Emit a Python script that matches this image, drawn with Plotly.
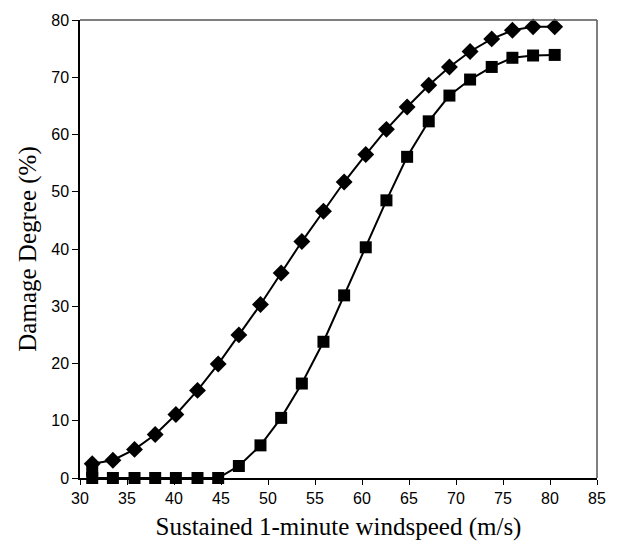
import plotly.graph_objects as go

# Wind speeds (m/s)
windspeed = [31.3, 33.5, 35.8, 38.0, 40.2, 42.5, 44.7, 46.9, 49.2, 51.4, 53.6, 55.9,
             58.1, 60.4, 62.6, 64.8, 67.1, 69.3, 71.5, 73.8, 76.0, 78.2, 80.5]

# Diamond series (%)
damage_diamond = [2.5, 3.1, 5.0, 7.6, 11.1, 15.3, 19.9, 25.0, 30.3, 35.8, 41.3, 46.6,
                  51.7, 56.5, 60.9, 64.8, 68.6, 71.8, 74.5, 76.7, 78.2, 78.8, 78.8]

# Square series (%)
square_speed = [31.3] + windspeed
damage_square = [1.3, 0.0, 0.0, 0.0, 0.0, 0.0, 0.0, 0.0, 2.1, 5.7, 10.5, 16.5, 23.8,
                 31.9, 40.3, 48.5, 56.1, 62.3, 66.8, 69.6, 71.8, 73.4, 73.8, 73.9]

x_ticks = [30, 35, 40, 45, 50, 55, 60, 65, 70, 75, 80, 85]
y_ticks = [0, 10, 20, 30, 40, 50, 60, 70, 80]

fig = go.Figure()
fig.add_trace(go.Scatter(
    x=square_speed, y=damage_square, mode="lines+markers",
    line=dict(color="black", width=2),
    marker=dict(symbol="square", size=12, color="black"),
    cliponaxis=False, showlegend=False))
fig.add_trace(go.Scatter(
    x=windspeed, y=damage_diamond, mode="lines+markers",
    line=dict(color="black", width=2),
    marker=dict(symbol="diamond", size=13, color="black"),
    cliponaxis=False, showlegend=False))

tick_font = dict(family="Liberation Sans, Arial, sans-serif", size=16, color="black")
title_font = dict(family="Liberation Serif, Times New Roman, serif", size=25, color="black")

fig.update_xaxes(range=[30, 85], tickvals=x_ticks, ticktext=[str(v) for v in x_ticks],
                 showline=True, linecolor="black", linewidth=1.5,
                 ticks="outside", ticklen=5, tickcolor="black", tickwidth=1,
                 showgrid=False, zeroline=False, tickfont=tick_font,
                 title=dict(text="Sustained 1-minute windspeed (m/s)", font=title_font, standoff=12))
fig.update_yaxes(range=[0, 80], tickvals=y_ticks, ticktext=[str(v) for v in y_ticks],
                 showline=True, linecolor="black", linewidth=1.5,
                 ticks="outside", ticklen=6, tickcolor="black", tickwidth=1,
                 showgrid=False, zeroline=False, tickfont=tick_font,
                 title=dict(text="Damage Degree (%)", font=title_font, standoff=8))

# top and right frame lines (greyish in reference)
fig.add_shape(type="line", xref="x domain", yref="y domain", x0=0, x1=1, y0=1, y1=1,
              line=dict(color="#555555", width=1.5))
fig.add_shape(type="line", xref="x domain", yref="y domain", x0=1, x1=1, y0=0, y1=1,
              line=dict(color="#555555", width=1.5))

fig.update_layout(width=618, height=550, paper_bgcolor="white", plot_bgcolor="white",
                  margin=dict(l=80, r=20, t=17, b=72))

fig.write_html("out.html")
